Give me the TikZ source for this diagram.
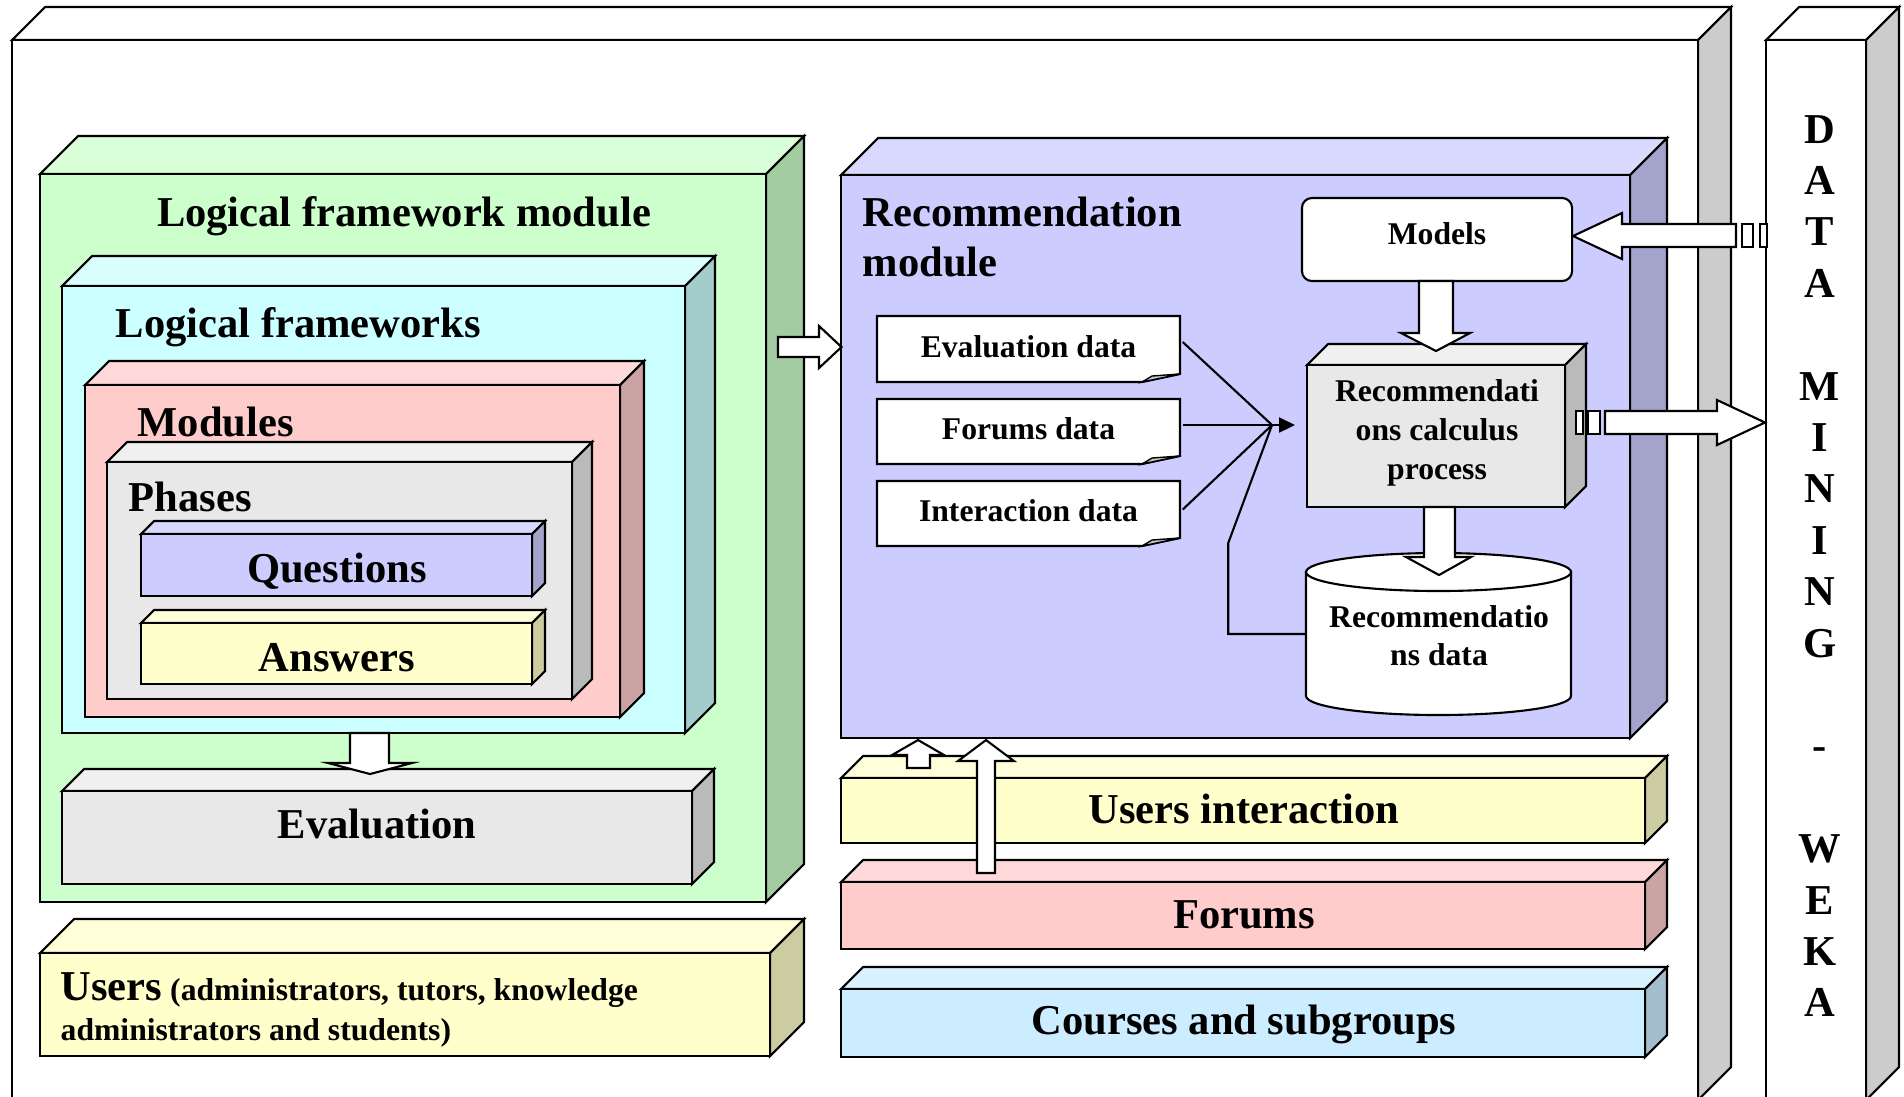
\documentclass[tikz,border=0pt]{standalone}
\usepackage{fontspec}
\setmainfont{Liberation Serif}
\usetikzlibrary{arrows.meta,calc}

\definecolor{outSd}{HTML}{CCCCCC}
\definecolor{gF}{HTML}{CCFFCC}\definecolor{gT}{HTML}{D9FFD9}\definecolor{gS}{HTML}{A3CCA3}
\definecolor{cF}{HTML}{CCFFFF}\definecolor{cT}{HTML}{D9FFFF}\definecolor{cS}{HTML}{A3CCCC}
\definecolor{pF}{HTML}{FFCCCC}\definecolor{pT}{HTML}{FFD9D9}\definecolor{pS}{HTML}{CCA3A3}
\definecolor{eF}{HTML}{E8E8E8}\definecolor{eT}{HTML}{F0F0F0}\definecolor{eS}{HTML}{BABABA}
\definecolor{bF}{HTML}{CCCCFF}\definecolor{bT}{HTML}{D9D9FF}\definecolor{bS}{HTML}{A3A3CC}
\definecolor{yF}{HTML}{FFFFCC}\definecolor{yT}{HTML}{FFFFD9}\definecolor{yS}{HTML}{CCCCA3}
\definecolor{lF}{HTML}{CCECFF}\definecolor{lT}{HTML}{D9F2FF}\definecolor{lS}{HTML}{A3BDCC}
\definecolor{foldgray}{HTML}{C8C8C8}

\tikzset{
  boxline/.style={draw=black, line width=0.6pt, line join=miter},
  big/.style={font=\fontsize{12.1}{14}\selectfont\bfseries, inner sep=0pt},
  small/.style={font=\fontsize{9}{11}\selectfont\bfseries, inner sep=0pt},
  blockarrow/.style={draw=black, fill=white, line width=0.6pt, line join=miter},
  conn/.style={draw=black, line width=0.6pt},
}

% #1 name, #2 x1, #3 y1, #4 x2, #5 y2, #6 depth, #7 front, #8 top, #9 side
\newcommand\cubebox[9]{%
  \filldraw[boxline, fill=#8] (#2,#3) -- ({#2+#6},{#3-#6}) -- ({#4+#6},{#3-#6}) -- (#4,#3) -- cycle;
  \filldraw[boxline, fill=#9] (#4,#3) -- ({#4+#6},{#3-#6}) -- ({#4+#6},{#5-#6}) -- (#4,#5) -- cycle;
  \node[boxline, fill=#7, inner sep=0pt, minimum width={(#4-#2)*0.01cm}, minimum height={(#5-#3)*0.01cm}] (#1) at ({(#2+#4)/2},{(#3+#5)/2}) {};
}

% #1 name, #2 x1, #3 y1, #4 x2, #5 y2, #6 text
\newcommand\datanote[6]{%
  \filldraw[boxline, fill=white] (#2,#3) -- (#4,#3) -- (#4,{#5-8}) -- ({#4-38},#5) -- (#2,#5) -- cycle;
  \filldraw[boxline, fill=foldgray, line width=0.4pt] ({#4-38},#5) -- ({#4-28},{#5-6}) -- (#4,{#5-8}) -- cycle;
  \node[inner sep=0pt, minimum width={(#4-#2)*0.01cm}, minimum height={(#5-#3)*0.01cm}] (#1) at ({(#2+#4)/2},{(#3+#5)/2}) {};
  \node[small, anchor=base] (#1-t) at ({(#2+#4)/2},{(#3+#5)/2+8}) {#6};
}

\begin{document}
\begin{tikzpicture}[x=0.01cm,y=-0.01cm]
\useasboundingbox (0,0) rectangle (1904,1096);
\clip (0,0) rectangle (1904,1096);

% outer containers
\cubebox{outer}{12}{40}{1698}{1100}{33}{white}{white}{outSd}
\cubebox{dmbox}{1766}{40}{1866}{1100}{33}{white}{white}{outSd}

% left column
\cubebox{lfm}{40}{174}{766}{902}{38}{gF}{gT}{gS}
\cubebox{lfs}{62}{286}{685}{733}{30}{cF}{cT}{cS}
\cubebox{mods}{85}{385}{620}{717}{24}{pF}{pT}{pS}
\cubebox{phs}{107}{462}{572}{699}{20}{eF}{eT}{eS}
\cubebox{qs}{141}{534}{532}{596}{13}{bF}{bT}{bS}
\cubebox{ans}{141}{623}{532}{684}{13}{yF}{yT}{yS}
\cubebox{evl}{62}{791}{692}{884}{22}{eF}{eT}{eS}
\cubebox{usr}{40}{953}{770}{1056}{34}{yF}{yT}{yS}

% right column
\cubebox{rec}{841}{175}{1630}{738}{37}{bF}{bT}{bS}
\cubebox{ui}{841}{778}{1645}{843}{22}{yF}{yT}{yS}
\cubebox{frm}{841}{882}{1645}{949}{22}{pF}{pT}{pS}
\cubebox{crs}{841}{989}{1645}{1057}{22}{lF}{lT}{lS}

% inside recommendation module
\node[boxline, fill=white, rounded corners=0.1cm, inner sep=0pt, minimum width=2.70cm, minimum height=0.83cm] (models) at (1437,239.5) {};
\node[small, anchor=base] (models-t) at (1437,244) {Models};

\cubebox{proc}{1307}{365}{1565}{507}{21}{eF}{eT}{eS}

\datanote{evd}{877}{316}{1180}{382}{Evaluation data}
\datanote{fd}{877}{399}{1180}{464}{Forums data}
\datanote{id}{877}{481}{1180}{546}{Interaction data}

% cylinder
\filldraw[boxline, fill=white] (1306,572) -- (1306,696) arc[start angle=180, end angle=0, x radius=132.5, y radius=19] -- (1571,572) -- cycle;
\filldraw[boxline, fill=white] (1438.5,572) ellipse [x radius=132.5, y radius=19];
\node[inner sep=0pt, minimum width=2.65cm, minimum height=1.62cm] (cyl) at (1438.5,634) {};

% connectors
\coordinate (conv) at (1272,425);
\coordinate (arrtip) at (1295,425);
\draw[conn] ($(evd.east)+(2,-7)$) -- (conv);
\draw[conn, -{Triangle[length=0.16cm, width=0.15cm]}] ($(fd.east)+(2,-6.5)$) -- (arrtip);
\draw[conn] ($(id.east)+(2,-4)$) -- (conv);
\draw[conn] (cyl.west) -- ++(-77,0) -- ++(0,-91) -- (conv);

% block arrows
\filldraw[blockarrow] (778,337) -- (819,337) -- (819,326) -- (841.5,347) -- (819,368) -- (819,357) -- (778,357) -- cycle;
\filldraw[blockarrow] (350,733) -- (350,763) -- (328,763) -- (370,774) -- (412,763) -- (389,763) -- (389,733) -- cycle;
\filldraw[blockarrow] (1419,281) -- (1419,333) -- (1401,333) -- (1436,351) -- (1470,333) -- (1453,333) -- (1453,281) -- cycle;
\filldraw[blockarrow] (1424,507) -- (1424,557) -- (1406,557) -- (1439,575) -- (1471,557) -- (1455,557) -- (1455,507) -- cycle;
% striped arrow to Models
\filldraw[blockarrow] (1573,236) -- (1622,213) -- (1622,224) -- (1736,224) -- (1736,247) -- (1622,247) -- (1622,259) -- cycle;
\filldraw[blockarrow] (1742,224) rectangle (1753,247);
\filldraw[blockarrow] (1760,224) rectangle (1767,247);
% striped arrow to data mining
\filldraw[blockarrow] (1576,411) rectangle (1583,434);
\filldraw[blockarrow] (1588,411) rectangle (1600,434);
\filldraw[blockarrow] (1605,411) -- (1717,411) -- (1717,400) -- (1765,422.5) -- (1717,445) -- (1717,434) -- (1605,434) -- cycle;
% up arrows
\filldraw[blockarrow] (907,768) -- (907,755) -- (892,755) -- (918,740) -- (944,755) -- (930,755) -- (930,768) -- cycle;
\filldraw[blockarrow] (977,873) -- (977,761) -- (958,761) -- (986,740) -- (1014,761) -- (995,761) -- (995,873) -- cycle;

% texts
\node[big, anchor=base] (t-lfm) at (404,226) {Logical framework module};
\node[big, anchor=base west] (t-lfs) at (115,337) {Logical frameworks};
\node[big, anchor=base west] (t-mods) at (137,436) {Modules};
\node[big, anchor=base west] (t-phs) at (128,511) {Phases};
\node[big, anchor=base] (t-qs) at (337,582) {Questions};
\node[big, anchor=base] (t-ans) at (337,671) {Answers};
\node[big, anchor=base] (t-evl) at (377,838) {Evaluation};
\node[small, anchor=base west] (t-usr1) at (60,1000) {{\fontsize{12.1}{14}\selectfont Users} (administrators, tutors, knowledge};
\node[small, anchor=base west] (t-usr2) at (60,1040) {administrators and students)};

\node[big, anchor=base west] (t-rec1) at (862,226) {Recommendation};
\node[big, anchor=base west] (t-rec2) at (862,276) {module};
\node[small, anchor=base] (t-p1) at (1437,401) {Recommendati};
\node[small, anchor=base] (t-p2) at (1437,440) {ons calculus};
\node[small, anchor=base] (t-p3) at (1437,479) {process};
\node[small, anchor=base] (t-c1) at (1439,627) {Recommendatio};
\node[small, anchor=base] (t-c2) at (1439,665) {ns data};
\node[big, anchor=base] (t-ui) at (1244,823) {Users interaction};
\node[big, anchor=base] (t-frm) at (1244,928) {Forums};
\node[big, anchor=base] (t-crs) at (1244,1034) {Courses and subgroups};

\foreach \ch/\k in {D/0,A/1,T/2,A/3,M/5,I/6,N/7,I/8,N/9,G/10,-/12,W/14,E/15,K/16,A/17}
  \node[big, anchor=base] (dm\k) at (1820,{143+51.4*\k}) {\ch};
\end{tikzpicture}
\end{document}
